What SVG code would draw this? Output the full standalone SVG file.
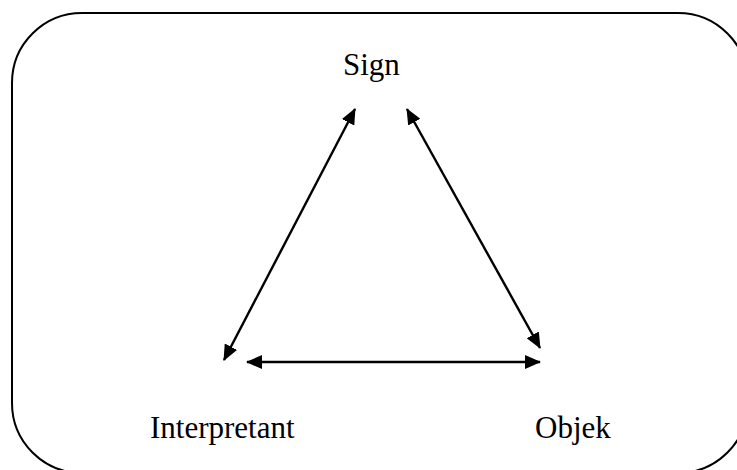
<svg xmlns="http://www.w3.org/2000/svg" width="737" height="470" viewBox="0 0 737 470">
<defs>
<style>
.lbl{font-family:"Liberation Serif","Times New Roman",serif;font-size:31px;fill:#000}
.edge{stroke:#000;stroke-width:2.4;fill:none;marker-start:url(#ah);marker-end:url(#ah)}
</style>
<marker id="ah" viewBox="0 0 16 14" refX="15" refY="7" markerWidth="16" markerHeight="14" markerUnits="userSpaceOnUse" orient="auto-start-reverse">
<path d="M0,0 L16,7 L0,14 Z" fill="#000"/>
</marker>
</defs>
<rect x="12" y="13" width="736" height="460" rx="70" ry="70" fill="#fff" stroke="#000" stroke-width="2"/>
<g id="sign"><text class="lbl" x="343" y="75">Sign</text></g>
<g id="interpretant"><text class="lbl" x="150" y="438">Interpretant</text></g>
<g id="objek"><text class="lbl" x="535" y="438">Objek</text></g>
<g id="connectors">
<line class="edge" x1="224" y1="360" x2="355" y2="109"/>
<line class="edge" x1="407" y1="109" x2="540" y2="348"/>
<line class="edge" x1="247" y1="362" x2="540" y2="362"/>
</g>
</svg>
